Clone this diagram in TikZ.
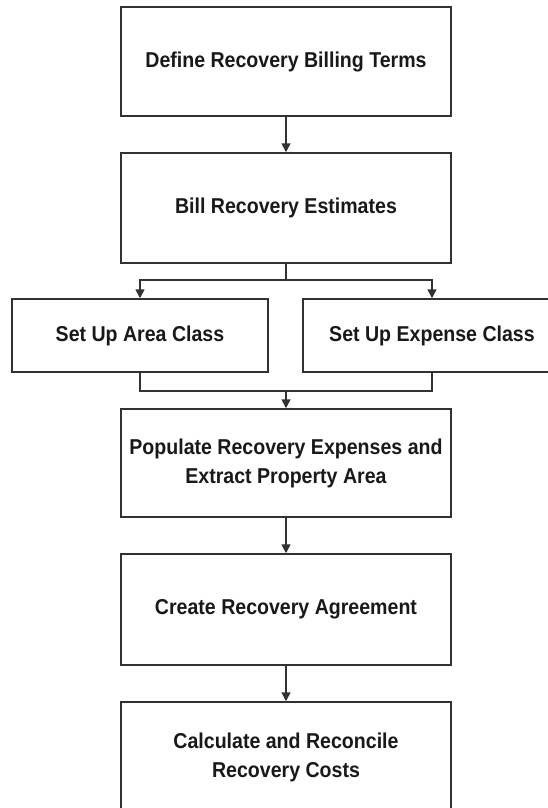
\documentclass[tikz,border=0pt]{standalone}
\usepackage{fontspec}
\setmainfont{Liberation Sans}[FakeStretch=0.91]
\usetikzlibrary{arrows.meta}
\definecolor{edge}{RGB}{50,50,50}
\definecolor{txt}{RGB}{25,25,25}
\tikzset{
  x=1pt, y=1pt,
  box/.style={draw=edge, line width=1.5pt, fill=white, rectangle, inner sep=0pt,
    align=center, text=txt, font=\fontsize{21.5}{29}\selectfont\bfseries,
    minimum width=330pt, minimum height=109pt},
  sidebox/.style={box, minimum width=256pt, minimum height=73pt},
  conn/.style={draw=edge, line width=1.5pt},
  arr/.style={conn, -{Triangle[length=9pt,width=9pt]}}
}
\begin{document}
\begin{tikzpicture}
\useasboundingbox (0,0) rectangle (548,-808);
\clip (0,0) rectangle (548,-808);
\node[box] (b1) at (286,-61.5) {Define Recovery Billing Terms};
\node[box, minimum height=110pt] (b2) at (286,-208) {Bill Recovery Estimates};
\node[sidebox] (area) at (140,-335.5) {Set Up Area Class};
\node[sidebox, minimum width=258pt] (exp) at (432,-335.5) {Set Up Expense Class};
\node[box, minimum height=108pt] (b4) at (286,-463) {Populate Recovery Expenses and\\Extract Property Area};
\node[box, minimum height=111pt] (b5) at (286,-609.5) {Create Recovery Agreement};
\node[box, minimum height=110pt] (b6) at (286,-757) {Calculate and Reconcile\\Recovery Costs};
\coordinate (br) at (286,-280);
\coordinate (mg) at (286,-391);
\draw[arr] (b1.south) -- (b2.north);
\draw[conn] (b2.south) -- (br);
\draw[arr] (br) -| (area.north);
\draw[arr] (br) -| (exp.north);
\draw[conn] (area.south) |- (mg);
\draw[conn] (exp.south) |- (mg);
\draw[arr] (mg) -- (b4.north);
\draw[arr] (b4.south) -- (b5.north);
\draw[arr] (b5.south) -- (b6.north);
\end{tikzpicture}
\end{document}
